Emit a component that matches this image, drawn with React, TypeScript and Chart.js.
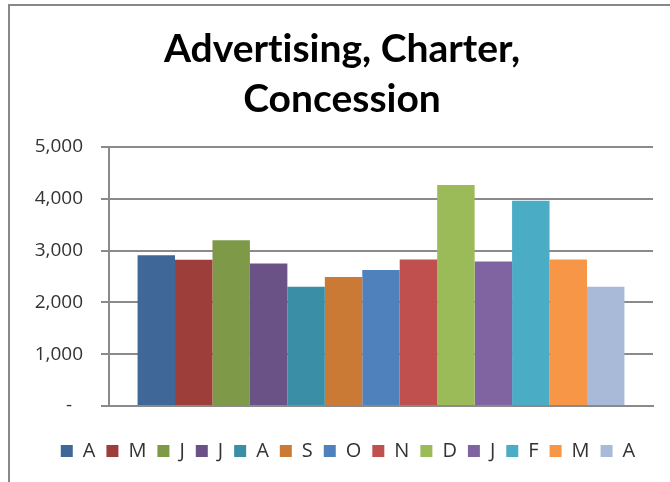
import React, { useEffect, useRef } from "react";
import { Chart, registerables } from "chart.js";

Chart.register(...registerables);

// \u200C keeps Lato from joining "ti" into a ligature
const TITLE_LINES = ["Advert\u200Cising, Charter,", "Concession"];
const MONTHS = ["A", "M", "J", "J", "A", "S", "O", "N", "D", "J", "F", "M", "A"];
const VALUES = [2910, 2825, 3200, 2750, 2300, 2490, 2625, 2830, 4265, 2790, 3960, 2830, 2300];
const COLORS = [
  "#3F6797", "#9E3E3B", "#7E9A48", "#6A5287", "#3A8EA5", "#CB7A36", "#4F81BD",
  "#C0504D", "#9BBB59", "#8064A2", "#4BACC6", "#F79646", "#A9B9D8",
];
const Y_TICKS = [0, 1000, 2000, 3000, 4000, 5000];

const GRID = "#8a8a8a";

const legendShift = {
  id: "legendShift",
  afterLayout(chart: any) {
    if (chart.legend) chart.legend.left += 12;
  },
};

export default function App() {
  const ref = useRef<HTMLCanvasElement | null>(null);

  useEffect(() => {
    if (!ref.current) return;
    const chart = new Chart(ref.current, {
      type: "bar",
      data: {
        labels: [""],
        datasets: MONTHS.map((m, i) => ({
          label: m,
          data: [VALUES[i]],
          backgroundColor: COLORS[i],
          borderWidth: 0,
          categoryPercentage: 0.895,
          barPercentage: 1,
        })),
      },
      plugins: [legendShift],
      options: {
        responsive: false,
        animation: false,
        devicePixelRatio: 1,
        layout: { padding: { left: 21, right: 29, top: 0, bottom: 13 } },
        plugins: {
          tooltip: { enabled: false },
          title: {
            display: true,
            text: TITLE_LINES,
            color: "#000",
            font: { family: "Lato", weight: "bold", size: 39, lineHeight: 50 / 39 },
            padding: { top: 18, bottom: 23 },
          },
          legend: {
            display: true,
            position: "bottom",
            labels: {
              boxWidth: 12,
              boxHeight: 12,
              padding: 11,
              color: "#333",
              font: { family: "Open Sans", size: 20 },
            },
          },
        },
        scales: {
          x: {
            grid: { display: false },
            ticks: { display: false },
            border: { display: true, color: GRID, width: 2 },
            afterFit: (s: any) => {
              s.height = 24;
            },
          },
          y: {
            min: 0,
            max: 5000,
            afterBuildTicks: (s: any) => {
              s.ticks = Y_TICKS.map((v) => ({ value: v }));
            },
            grid: { color: GRID, lineWidth: 2, tickLength: 8, drawTicks: true },
            border: { display: true, color: GRID, width: 2 },
            ticks: {
              padding: 18,
              color: "#333",
              font: { family: "Open Sans", size: 19 },
              callback: (v: any) => (Number(v) === 0 ? "-\u2007" : Number(v).toLocaleString("en-US")),
            },
            afterFit: (s: any) => {
              s.width = 78;
            },
          },
        },
      },
    });
    return () => chart.destroy();
  }, []);

  return (
    <div style={{ position: "fixed", inset: 0, overflow: "hidden", background: "#fff" }}>
      <div
        style={{
          position: "absolute",
          left: 8,
          top: 4,
          width: 672,
          height: 478,
          borderLeft: "2px solid #888",
          borderTop: "2px solid #888",
        }}
      >
        <canvas ref={ref} width={672} height={478} style={{ display: "block", width: 672, height: 478 }} />
      </div>
    </div>
  );
}
